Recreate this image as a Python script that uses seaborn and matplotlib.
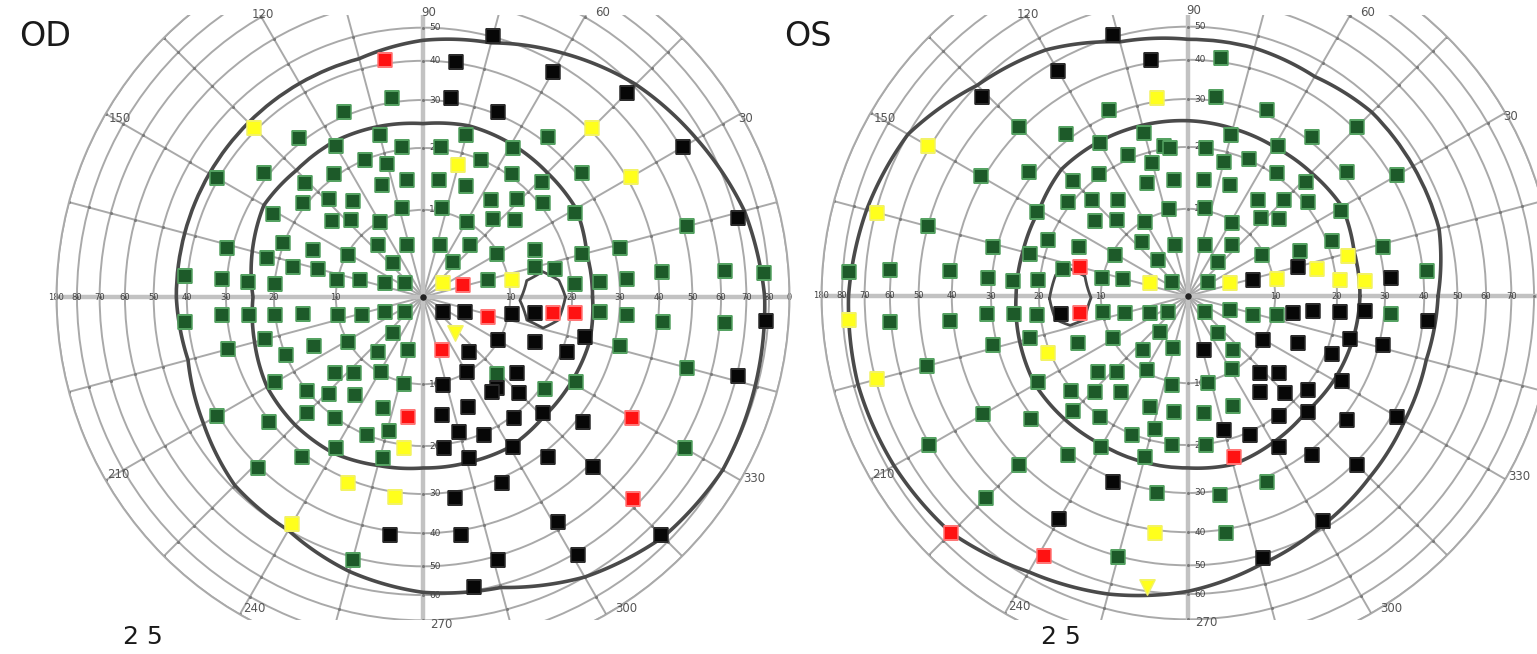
import numpy as np
import pandas as pd
import matplotlib
matplotlib.use("Agg")
import matplotlib.pyplot as plt
from matplotlib.patches import Rectangle
from matplotlib.transforms import offset_copy
import seaborn as sns

# ==========================
# DATA - meridian (deg) and eccentricity (deg) of every test point
# ==========================

# ---- OD (right eye) ----
od_green_ang = [99, 113, 128, 105, 75, 120, 98, 83, 113, 105,
                67, 150, 142, 136, 126, 110, 98, 82, 69, 55,
                142, 134, 126, 103, 78, 151, 140, 133, 120, 60,
                48, 166, 159, 157, 166, 151, 131, 107, 72, 48,
                131, 49, 30, 167, 165, 175, 175, 175, 175, 169,
                165, 160, 142, 15, 186, 185, 186, 187, 188, 192,
                196, 202, 220, 52, 59, 38, 54, 44, 15, 46,
                38, 29, 40, 14, 23, 15, 15, 12, 6, 5,
                4, 5, 5, 5, 355, 355, 354, 355, 195, 195,
                203, 204, 211, 230, 231, 254, 210, 221, 228, 241,
                258, 210, 219, 219, 226, 235, 225, 234, 250, 248,
                256, 233, 240, 256, 226, 255, 346, 314, 331, 345,
                323, 330]
od_green_ecc = [31, 31, 31, 23.7, 23.7, 24.9, 20.4, 20.4, 19.9, 18,
                20, 40.5, 31, 23, 20.5, 14.8, 14.6, 14.6, 14.8, 14.7,
                20.7, 17.6, 14.8, 10.6, 10.5, 24.5, 14.7, 12.6, 9.9, 10,
                12.5, 31.2, 20.2, 14.8, 22.3, 9.8, 7.5, 5.8, 5.8, 7.7,
                4.7, 4.8, 9.7, 17.2, 13.2, 40.8, 31.1, 25.2, 19.9, 10.1,
                7.1, 4.1, 2.2, 7.3, 40.8, 31.1, 25.2, 20, 15.1, 9.9,
                6.9, 4.2, 2.3, 31.3, 25, 31.1, 20.5, 23.2, 51.2, 17.6,
                20.7, 24.9, 14.9, 31.4, 15.2, 23, 14.3, 17.5, 41.1, 62,
                78, 20.6, 25.6, 31.9, 25.6, 31.9, 41.4, 62, 31.1, 22.7,
                20, 14.9, 10.1, 4.9, 7.8, 5.9, 24.3, 14.3, 12.2, 9.8,
                10.3, 40.4, 30.4, 20.1, 17.5, 14.8, 22.9, 20, 14.6, 19.9,
                18.1, 30.9, 24.9, 23.3, 40.4, 51, 31.4, 12.8, 25.2, 51.3,
                20.8, 61.5]
od_black_ang = [75, 82, 82, 68, 60, 45, 30, 14, 356, 323,
                340, 349, 352, 310, 283, 300, 309, 279, 292, 285,
                294, 278, 286, 279, 262, 279, 286, 280, 330, 338,
                346, 321, 339, 346, 306, 315, 316, 307, 322, 301,
                308, 315, 293, 301, 315, 301]
od_black_ecc = [50.4, 40.4, 31, 30.6, 47, 56.3, 60.8, 70.5, 78.9, 2.5,
                4.6, 10.5, 13.8, 8, 10.4, 10, 14.5, 14.8, 14.8, 18.3,
                20.4, 20.6, 23.6, 31.5, 41.1, 41.3, 51.3, 58.8, 9.9, 15.1,
                23.5, 15.1, 21, 70.6, 14.6, 17.7, 23.5, 20.5, 31.3, 25.2,
                31.4, 41.1, 31.2, 47.8, 76, 60.9]
od_yellow_ang = [135, 75, 45, 30, 35, 11, 263, 248, 262, 240]
od_yellow_ecc = [40.6, 17.7, 40.8, 41.2, 2.4, 10.5, 20.6, 30.9, 31.2, 47.7]
od_red_ang = [99, 17, 343, 353, 354, 290, 263, 330, 316]
od_red_ecc = [41, 4.3, 7.4, 16.7, 20.7, 6, 15.1, 41.5, 57.6]
od_tri_ang = [312]
od_tri_ecc = [5.0]

# ---- OS (left eye) ----
os_green_ang = [113, 135, 127, 120, 105, 99, 113, 105, 142, 150,
                135, 126, 110, 142, 135, 126, 165, 151, 141, 133,
                120, 166, 158, 165, 156, 151, 130, 130, 176, 175,
                174, 175, 175, 174, 168, 168, 165, 185, 186, 185,
                186, 187, 191, 195, 204, 82, 82, 67, 45, 75,
                52, 97, 83, 59, 75, 66, 30, 38, 54, 44,
                97, 82, 69, 54, 45, 38, 29, 102, 79, 59,
                47, 40, 104, 72, 49, 29, 22, 21, 14,
                49, 6, 139, 35, 219, 317, 342, 344, 348, 355,
                195, 194, 195, 203, 209, 230, 232, 210, 220, 227,
                241, 219, 226, 235, 225, 234, 251, 248, 256, 210,
                218, 210, 233, 240, 255, 225, 225, 261, 255, 309,
                254, 310, 301, 260, 283, 263, 278, 292, 264, 277, 293, 279, 279]
os_green_ecc = [31.3, 40.8, 31.3, 25.4, 23.9, 20.6, 20.7, 17.9, 31, 40.8,
                22.6, 20.4, 15, 20.6, 17.6, 14.7, 50.1, 24.7, 14.9, 12.5,
                9.8, 31, 20.3, 22.7, 14.9, 9.5, 7.8, 4.9, 77.1, 60.3,
                40.8, 31, 25.2, 20.3, 16.2, 10.1, 7.3, 60.3, 40.8, 31.2,
                25.2, 20.6, 9.9, 7.1, 4.3, 41.2, 31, 31.2, 40.8, 23.5,
                31.1, 20.1, 20.1, 25.1, 18.1, 20.2, 41.4, 31, 20.6, 22.8,
                14.4, 14.5, 14.7, 14.7, 17.5, 20.6, 25.1, 10.3, 10.3, 9.8,
                12.8, 14.8, 5.6, 5.7, 7.4, 9.6, 15.1, 21, 31,
                4.7, 41.3, 2.1, 2.4, 2.5, 2.3, 4.6, 7.4, 10.5, 31.5,
                50.2, 31, 22.7, 14.8, 9.8, 7.7, 4.7, 24.7, 14.6, 12.4,
                9.6, 20.3, 17.2, 14.4, 22.5, 20.2, 14.5, 20.1, 17.9, 40.2,
                30.5, 60.3, 30.4, 25.1, 23.4, 40.6, 55.3, 30.5, 50.3, 4.9,
                5.7, 7.7, 9.8, 10.4, 10.3, 14.4, 14.6, 14.8, 20.1, 20.2, 31.3, 31.1, 41]
os_black_ang = [106, 99, 120, 136, 188, 15, 14, 5, 351, 353,
                354, 355, 354, 248, 240, 330, 337, 345, 346, 287,
                338, 313, 320, 331, 307, 315, 322, 307, 316, 330,
                322, 285, 294, 301, 308, 315, 301, 286]
os_black_ecc = [50.7, 40.7, 46.9, 56, 16.4, 13.9, 7.3, 31.5, 12.8, 16,
                20.7, 25.6, 41.4, 30.9, 46.4, 10, 14.8, 23.6, 31, 6,
                21.1, 12.6, 14.8, 25.4, 15, 17.8, 20.6, 20.3, 23.5, 41.6,
                31.1, 18.1, 20.6, 25.4, 31.2, 40.6, 47.9, 51]
os_yellow_ang = [99, 150, 165, 161, 184, 17, 11, 6, 5, 14, 12, 195, 202, 262]
os_yellow_ecc = [30.7, 60.9, 69.4, 4.1, 77.1, 4.5, 10.5, 20.7, 25.6, 23, 16.9, 69.4, 20.4, 40.8]
os_red_ang = [165, 189, 286, 225, 241]
os_red_ecc = [13.6, 13.3, 23.6, 75, 59.6]
os_tri_ang = [262]
os_tri_ecc = [58.5]

# isopters: eccentricity on each meridian, every 15 deg starting at 0
meridians = list(range(0, 360, 15))
od_inner = [24, 24, 25.5, 25.3, 25.5, 25.6, 24.8, 25.4, 26, 26, 27, 25.5,
            24.1, 25, 26.2, 26.4, 26.2, 25, 24.3, 24.4, 24.8, 24.1, 24.3, 24.6]
od_outer = [78, 74, 67, 61, 54, 48, 46, 43, 43, 43, 43, 43,
            43, 42, 45, 49, 50, 55, 59, 61, 70, 77, 80, 79]
os_inner = [24.5, 24.5, 25.8, 25, 24.6, 24.8, 25.2, 25.5, 25.8, 26, 24.5, 24.3,
            24.5, 25, 25.5, 25, 24.5, 24.5, 24.5, 25, 24, 23.2, 23.8, 24.2]
os_outer = [44, 47, 47, 47, 45, 46, 46, 48, 55, 60, 70, 74,
            77, 78, 77, 75, 68, 64, 59, 53, 49, 46, 44, 43]

# blind spot outlines
od_blind_ang = [0, 7, 12, 9, -2, -12.5, -14.5, -9.6]
od_blind_ecc = [18.8, 17.8, 15.3, 12.6, 11.4, 12.8, 15.6, 17.9]
os_blind_ang = [181, 171, 167, 169, 181, 193, 194, 190]
os_blind_ecc = [18.1, 17.3, 15.1, 12.6, 11.4, 12.7, 15.2, 17.4]

circles = [10, 20, 30, 40, 50, 60, 70, 80, 90]
meridian_labels = ["120", "90", "60", "150", "30", "210", "330", "240", "300", "270"]
label_offsets = [(-160, -282), (6, -285), (180, -284), (-303, -178), (323, -179),
                 (-305, 178), (331, 181), (-169, 311), (203, 312), (18, 327)]


def table(green, black, yellow, red, tri):
    parts = []
    for name, (a, e) in zip(["green", "black", "yellow", "red", "tri"],
                            [green, black, yellow, red, tri]):
        parts.append(pd.DataFrame({"result": name, "ang": a, "ecc": e}))
    df = pd.concat(parts, ignore_index=True)
    df["theta"] = np.deg2rad(df["ang"])
    return df


od_df = table((od_green_ang, od_green_ecc), (od_black_ang, od_black_ecc),
              (od_yellow_ang, od_yellow_ecc), (od_red_ang, od_red_ecc),
              (od_tri_ang, od_tri_ecc))
os_df = table((os_green_ang, os_green_ecc), (os_black_ang, os_black_ecc),
              (os_yellow_ang, os_yellow_ecc), (os_red_ang, os_red_ecc),
              (os_tri_ang, os_tri_ecc))

# ==========================
# PLOT
# ==========================
sns.set_theme(style="white")
plt.rcParams["font.family"] = ["DejaVu Sans"]

W, H = 1537, 654
R_PX = 366.5  # pixel radius of the 90 deg circle

fig = plt.figure(figsize=(W / 100, H / 100), dpi=100)

styles = {
    "green": dict(marker="s", color="#1d5a29", edgecolor="#55a262", s=100),
    "black": dict(marker="s", color="#070707", edgecolor="#2c2c2c", s=108),
    "yellow": dict(marker="s", color="#ffff1c", edgecolor="#f2f266", s=108),
    "red": dict(marker="s", color="#ff1212", edgecolor="#ff7777", s=100),
    "tri": dict(marker="v", color="#ffff1c", edgecolor="#f2f266", s=120),
}


def fwd(r):
    return np.log1p(np.asarray(r, dtype=float) / 20.0)


def inv(u):
    return 20.0 * np.expm1(np.asarray(u, dtype=float))


def px(x, y):
    return x / W, 1 - y / H


def curve(ax, ang, ecc, lw):
    # closed outline, drawn as curves through the polar projection
    ln, = ax.plot(np.deg2rad(ang + [ang[0] + 360 if ang[0] == 0 and ang[-1] > 180 else ang[0]]),
                  ecc + [ecc[0]], color="#4a4a4a", lw=lw, zorder=3,
                  solid_joinstyle="round")
    ln.get_path()._interpolation_steps = 24
    return ln


def panel(cx, cy, df, inner, outer, b_ang, b_ecc, horiz_max):
    ax = fig.add_axes([(cx - R_PX) / W, (H - cy - R_PX) / H, 2 * R_PX / W, 2 * R_PX / H],
                      projection="polar")
    ax.set_facecolor("none")
    ax.set_rscale("function", functions=(fwd, inv))

    # test points
    for res, st in styles.items():
        sub = df[df["result"] == res]
        sns.scatterplot(data=sub, x="theta", y="ecc", ax=ax, linewidth=1.1,
                        zorder=5, legend=False, **st)

    # isopters and blind spot
    curve(ax, meridians, inner, 2.6)
    curve(ax, meridians, outer, 2.6)
    curve(ax, b_ang, b_ecc, 2.0)

    # main axes a bit heavier
    for a in [0, 90, 180, 270]:
        ax.plot(np.deg2rad([a, a]), [0, 90], color="#c2c2c2", lw=3.2, zorder=0.6)

    # small knots where the grid lines cross
    tg, rg = np.meshgrid(np.deg2rad(meridians), circles)
    ax.scatter(tg.ravel(), rg.ravel(), s=5, color="#7a7a7a", linewidths=0, zorder=0.7)
    ax.scatter([0], [0], s=22, color="#222222", linewidths=0, zorder=0.8)

    ax.set_rlim(0, 90)
    ax.set_rticks(circles)
    ax.set_xticks(np.deg2rad(meridians))
    ax.set_xticklabels([])
    ax.set_yticklabels([])
    ax.set_axisbelow(True)
    ax.grid(True, color="#a9a9a9", lw=1.4)
    ax.spines["polar"].set_edgecolor("#a9a9a9")
    ax.spines["polar"].set_linewidth(1.4)
    ax.set_xlabel("")
    ax.set_ylabel("")

    # eccentricity numbers along the horizontal meridian
    for r in circles[:-1]:
        ax.text(np.pi, r, str(r), ha="center", va="center",
                fontsize=6, color="#404040", zorder=2)
        if r <= horiz_max:
            ax.text(0, r, str(r), ha="center", va="center",
                    fontsize=6, color="#404040", zorder=2)
    ax.text(np.pi, 90, "180", ha="center", va="center", fontsize=6,
            color="#404040", zorder=2)
    if horiz_max >= 90:
        ax.text(0, 90, "0", ha="center", va="center", fontsize=6,
                color="#404040", zorder=2)

    # and along the vertical meridian
    shift = offset_copy(ax.transData, fig=fig, x=12, y=0, units="dots")
    for r in [10, 20, 30, 40, 50]:
        ax.text(np.deg2rad(90), r, str(r), ha="center", va="center",
                fontsize=6.5, color="#404040", transform=shift, zorder=2)
    for r in [10, 20, 30, 40, 50, 60]:
        ax.text(np.deg2rad(270), r, str(r), ha="center", va="center",
                fontsize=6.5, color="#404040", transform=shift, zorder=2)

    # meridian labels (drawn above the clipping bands)
    for lab, (dx, dy) in zip(meridian_labels, label_offsets):
        fig.text(*px(cx + dx, cy + dy), lab, ha="center", va="center",
                 fontsize=8.5, color="#555555", zorder=10)
    return ax


ax_od = panel(423, 297, od_df, od_inner, od_outer, od_blind_ang, od_blind_ecc, 90)
ax_os = panel(1188, 296, os_df, os_inner, os_outer, os_blind_ang, os_blind_ecc, 70)

# the chart sheet is cut off at top and bottom
fig.add_artist(Rectangle((0, 1 - 15 / H), 1, 15 / H, transform=fig.transFigure,
                         facecolor="white", edgecolor="none", zorder=8))
fig.add_artist(Rectangle((0, 0), 1, (H - 620) / H, transform=fig.transFigure,
                         facecolor="white", edgecolor="none", zorder=8))

fig.text(*px(45, 36), "OD", ha="center", va="center", fontsize=24, color="#1a1a1a", zorder=10)
fig.text(*px(808, 36), "OS", ha="center", va="center", fontsize=24, color="#1a1a1a", zorder=10)
fig.text(*px(143, 637), "2 5", ha="center", va="center", fontsize=18, color="#1a1a1a", zorder=10)
fig.text(*px(1061, 637), "2 5", ha="center", va="center", fontsize=18, color="#1a1a1a", zorder=10)

fig.savefig("out.png", dpi=100, facecolor="white")
